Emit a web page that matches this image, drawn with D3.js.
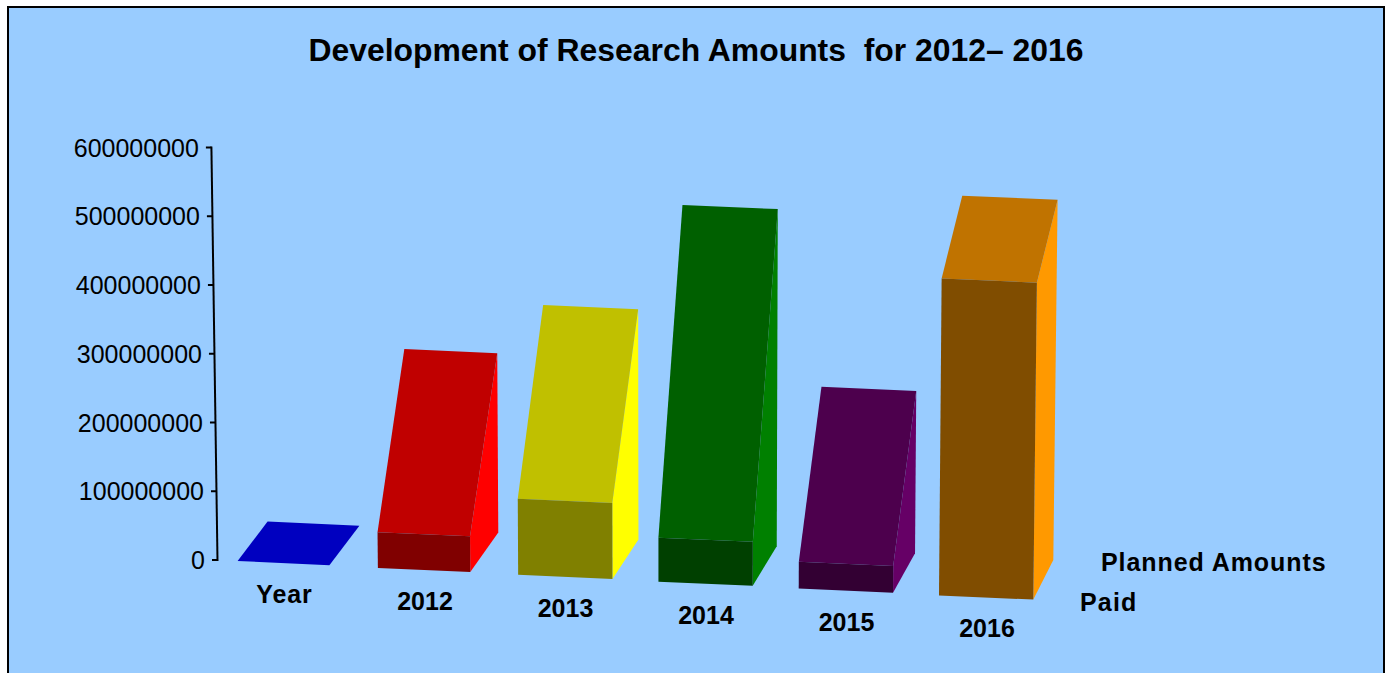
<!DOCTYPE html>
<html>
<head>
<meta charset="utf-8">
<script src="https://cdn.jsdelivr.net/npm/d3@7/dist/d3.min.js"></script>
<style>
html,body{margin:0;padding:0;background:#fff;overflow:hidden}
svg{display:block}
text{font-family:"Liberation Sans",Arial,sans-serif;fill:#000;white-space:pre}
</style>
</head>
<body>
<svg id="chart" width="1389" height="673"></svg>
<script>
// ---- data ----
const titleText = "Development of Research Amounts  for 2012\u2013 2016";
const categories = ["Year", "2012", "2013", "2014", "2015", "2016"];
const paid = [0, 52000000, 110500000, 64000000, 39000000, 461000000];
const planned = [0, 261000000, 335000000, 490500000, 236000000, 524000000];
const tickValues = [0, 100000000, 200000000, 300000000, 400000000, 500000000, 600000000];
const seriesNames = ["Planned Amounts", "Paid"];

// ---- palette: front, top, side ----
const frontColors = ["#000080", "#800000", "#808000", "#004000", "#330033", "#804D00"];
const topColors = ["#0000C0", "#C00000", "#C0C000", "#006000", "#4D004D", "#C07300"];
const sideColors = ["#0000FF", "#FF0000", "#FFFF00", "#008000", "#660066", "#FF9900"];

const svg = d3.select("#chart");
const W = 1389, H = 673;

svg.append("rect").attr("x", 8).attr("y", 7).attr("width", 1376).attr("height", H + 20)
  .attr("fill", "#99CCFF").attr("stroke", "#000").attr("stroke-width", 2);

svg.append("text").attr("x", 696).attr("y", 61).attr("text-anchor", "middle")
  .attr("font-size", 31.9).attr("font-weight", "bold").text(titleText);

// ---- scales ----
const idx = categories.map((_, i) => i);
const heightPx = d3.scaleLinear().domain([0, 600000000]).range([0, 412.5]);
const groundX = d3.scalePoint().domain(idx).range([237.6, 939]);
const groundY = d3.scalePoint().domain(idx).range([561, 595.4]);
const labelX = d3.scalePoint().domain(idx).range([284.5, 987]);
const depthX = d3.scalePoint().domain(idx).range([30, 20]);
const barWidth = d3.scaleLinear().domain([0, 1, 2]).range([91.8, 92.4, 94.3]).clamp(true);
const depthY = -39.5, widthDrop = 4.2;

// verticals converge slightly towards a far vanishing point
const lean = (x, h) => x + 3.2e-5 * (x - 680) * h;

// project a point of bar i: u = 0|1 across, d = 0|1 in depth, v = value
function project(i, u, d, v) {
  const x0 = groundX(i) + u * barWidth(i) + d * depthX(i);
  const y0 = groundY(i) + u * widthDrop + d * depthY;
  const h = heightPx(v);
  return [lean(x0, h), y0 - h];
}
const poly = pts => pts.map(p => p.map(n => n.toFixed(2)).join(",")).join(" ");

// ---- value axis ----
const axisBaseY = 560;
const yScale = d3.scaleLinear().domain([0, 600000000]).range([axisBaseY, axisBaseY - 412.5]);
const axisX = 217.5;
const axisG = svg.append("g").attr("class", "axis")
  .call(d3.axisLeft(yScale).tickValues(tickValues).tickFormat(d3.format("d")).tickSize(5.5).tickPadding(7));
axisG.select(".domain").remove();
axisG.selectAll(".tick")
  .attr("transform", d => `translate(${lean(axisX, heightPx(d))},${yScale(d)})`);
axisG.selectAll(".tick line").attr("stroke", "#000").attr("stroke-width", 2);
axisG.selectAll(".tick text").attr("font-size", 25).attr("font-family", '"Liberation Sans",Arial,sans-serif')
  .attr("fill", "#000").attr("y", 1);
svg.append("line")
  .attr("x1", lean(axisX, heightPx(0))).attr("y1", yScale(0) + 1)
  .attr("x2", lean(axisX, heightPx(600000000))).attr("y2", yScale(600000000) - 1)
  .attr("stroke", "#000").attr("stroke-width", 2);

// ---- bars ----
const bars = svg.selectAll("g.bar").data(idx).join("g").attr("class", "bar");

bars.append("polygon").attr("fill", i => sideColors[i])
  .attr("points", i => poly([project(i,1,0,0), project(i,1,1,0), project(i,1,1,planned[i]), project(i,1,0,paid[i])]));
bars.append("polygon").attr("fill", i => topColors[i])
  .attr("points", i => poly([project(i,0,0,paid[i]), project(i,1,0,paid[i]), project(i,1,1,planned[i]), project(i,0,1,planned[i])]));
bars.append("polygon").attr("fill", i => frontColors[i])
  .attr("points", i => poly([project(i,0,0,0), project(i,1,0,0), project(i,1,0,paid[i]), project(i,0,0,paid[i])]));

// ---- category labels ----
bars.append("text")
  .attr("x", i => labelX(i))
  .attr("y", i => groundY(i) + 42)
  .attr("text-anchor", "middle").attr("font-size", 25).attr("font-weight", "bold")
  .attr("letter-spacing", i => i === 0 ? 0.9 : 0)
  .text(i => categories[i]);

// ---- series labels ----
svg.append("text").attr("x", 1101).attr("y", 570.7).attr("font-size", 25).attr("font-weight", "bold")
  .attr("letter-spacing", 0.93).text(seriesNames[0]);
svg.append("text").attr("x", 1080).attr("y", 610.7).attr("font-size", 25).attr("font-weight", "bold")
  .attr("letter-spacing", 1.2).text(seriesNames[1]);
</script>
</body>
</html>
